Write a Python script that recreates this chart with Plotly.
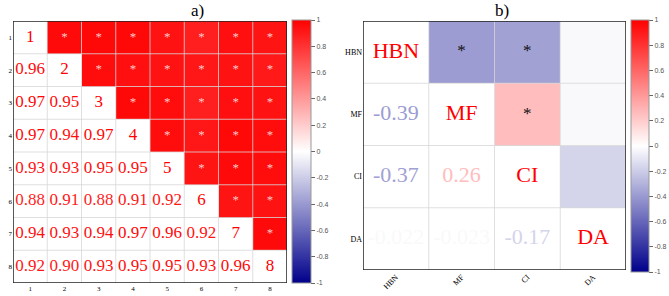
import numpy as np
import plotly.graph_objects as go
from plotly.colors import sample_colorscale

# ---------------- data ----------------
labels_a = ["1", "2", "3", "4", "5", "6", "7", "8"]
# lower-triangle correlations, row i lists r(i, 1..i-1)
lower_a = [
    [],
    [0.96],
    [0.97, 0.95],
    [0.97, 0.94, 0.97],
    [0.93, 0.93, 0.95, 0.95],
    [0.88, 0.91, 0.88, 0.91, 0.92],
    [0.94, 0.93, 0.94, 0.97, 0.96, 0.92],
    [0.92, 0.90, 0.93, 0.95, 0.95, 0.93, 0.96],
]
sig_a = [
    [],
    [1],
    [1, 1],
    [1, 1, 1],
    [1, 1, 1, 1],
    [1, 1, 1, 1, 1],
    [1, 1, 1, 1, 1, 1],
    [1, 1, 1, 1, 1, 1, 1],
]

labels_b = ["HBN", "MF", "CI", "DA"]
lower_b = [
    [],
    [-0.39],
    [-0.37, 0.26],
    [-0.022, -0.023, -0.17],
]
lower_b_text = [
    [],
    ["-0.39"],
    ["-0.37", "0.26"],
    ["-0.022", "-0.023", "-0.17"],
]
sig_b = [
    [],
    [1],
    [1, 1],
    [0, 0, 0],
]

cbar_ticks = [-1, -0.8, -0.6, -0.4, -0.2, 0, 0.2, 0.4, 0.6, 0.8, 1]
cbar_ticktext = ["-1", "-0.8", "-0.6", "-0.4", "-0.2", "0", "0.2", "0.4", "0.6", "0.8", "1"]

# ---------------- styling ----------------
W, H = 669, 296
SERIF = "Liberation Serif, Times New Roman, serif"
SANS = "Liberation Sans, Arial, sans-serif"
scale = [[0.0, "#00008B"], [0.5, "#FFFFFF"], [1.0, "#FF0000"]]


def col(v):
    return sample_colorscale(scale, [(v + 1) / 2])[0]


def pxx(p):
    return p / W


def pxy(p):
    return 1 - p / H


fig = go.Figure()


def build(labels, lower, texts, sig, xa, ya, num_size, star_size, star_color, cbar):
    n = len(labels)
    z = np.full((n, n), np.nan)
    for i in range(n):
        for j in range(i):
            z[j, i] = lower[i][j]  # upper triangle colored
    fig.add_trace(go.Heatmap(
        z=z, x=list(range(n)), y=list(range(n)), zmin=-1, zmax=1,
        colorscale=scale, xaxis=xa, yaxis=ya, hoverinfo="skip",
        colorbar=cbar,
    ))
    # numbers in lower triangle
    xs, ys, ts, cs = [], [], [], []
    for i in range(n):
        for j in range(i):
            xs.append(j)
            ys.append(i)
            ts.append(texts[i][j])
            cs.append(col(lower[i][j]))
    fig.add_trace(go.Scatter(x=xs, y=ys, text=ts, mode="text", xaxis=xa, yaxis=ya,
                             textfont=dict(family=SERIF, size=num_size, color=cs),
                             hoverinfo="skip", showlegend=False))
    # diagonal labels
    fig.add_trace(go.Scatter(x=list(range(n)), y=list(range(n)), text=labels, mode="text",
                             xaxis=xa, yaxis=ya,
                             textfont=dict(family=SERIF, size=num_size, color="#FF0000"),
                             hoverinfo="skip", showlegend=False))
    # significance stars in upper triangle
    sx, sy = [], []
    for i in range(n):
        for j in range(i):
            if sig[i][j]:
                sx.append(i)
                sy.append(j)
    fig.add_trace(go.Scatter(x=sx, y=sy, text=["*"] * len(sx), mode="text", xaxis=xa, yaxis=ya,
                             textfont=dict(family=SERIF, size=star_size, color=star_color),
                             hoverinfo="skip", showlegend=False))
    for k in range(1, n):
        b = k - 0.5
        fig.add_shape(type="line", x0=b, x1=b, y0=-0.5, y1=n - 0.5, xref=xa, yref=ya,
                      line=dict(color="rgba(215,215,215,0.8)", width=1), layer="above")
        fig.add_shape(type="line", y0=b, y1=b, x0=-0.5, x1=n - 0.5, xref=xa, yref=ya,
                      line=dict(color="rgba(215,215,215,0.8)", width=1), layer="above")
    fig.add_shape(type="rect", x0=-0.5, x1=n - 0.5, y0=-0.5, y1=n - 0.5, xref=xa, yref=ya,
                  line=dict(color="#222222", width=1.5), layer="above")


cb_common = dict(
    thickness=19, thicknessmode="pixels", lenmode="fraction", xanchor="left", yanchor="bottom",
    outlinewidth=1, outlinecolor="#999999", tickmode="array", tickvals=cbar_ticks,
    ticktext=cbar_ticktext, ticks="outside", ticklen=4, tickcolor="#666666",
    tickfont=dict(family=SANS, size=7, color="#555555"), xpad=0, ypad=0,
)

build(labels_a, lower_a, [[f"{v:.2f}" for v in r] for r in lower_a], sig_a, "x", "y",
      17, 13, "rgba(255,215,215,0.95)",
      dict(cb_common, x=pxx(292), y=pxy(283), len=263 / H))
build(labels_b, lower_b, lower_b_text, sig_b, "x2", "y2",
      22, 17, "#111111",
      dict(cb_common, x=pxx(631), y=pxy(272), len=252 / H, thickness=18))

fig.update_layout(
    width=W, height=H, margin=dict(l=0, r=0, t=0, b=0, autoexpand=False),
    paper_bgcolor="white", plot_bgcolor="white", showlegend=False,
    xaxis=dict(domain=[pxx(13), pxx(287)], range=[-0.5, 7.5], tickvals=list(range(8)),
               ticktext=labels_a, showgrid=False, zeroline=False, ticks="",
               tickfont=dict(family=SERIF, size=7, color="black")),
    yaxis=dict(domain=[pxy(283), pxy(21)], range=[7.5, -0.5], tickvals=list(range(8)),
               ticktext=labels_a, showgrid=False, zeroline=False, ticks="",
               tickfont=dict(family=SERIF, size=7, color="black")),
    xaxis2=dict(domain=[pxx(363), pxx(626)], range=[-0.5, 3.5], tickvals=list(range(4)),
                ticktext=labels_b, showgrid=False, zeroline=False, ticks="", tickangle=-45,
                anchor="y2", tickfont=dict(family=SERIF, size=8, color="black")),
    yaxis2=dict(domain=[pxy(270), pxy(21)], range=[3.5, -0.5], tickvals=list(range(4)),
                ticktext=labels_b, showgrid=False, zeroline=False, ticks="",
                anchor="x2", tickfont=dict(family=SERIF, size=8, color="black")),
    annotations=[
        dict(text="a)", x=pxx(190), y=1, xref="paper", yref="paper", showarrow=False,
             yanchor="top", borderpad=0, font=dict(family=SERIF, size=17, color="black")),
        dict(text="b)", x=pxx(510), y=1, xref="paper", yref="paper", showarrow=False,
             yanchor="top", borderpad=0, font=dict(family=SERIF, size=17, color="black")),
    ],
)

fig.write_html("out.html")
